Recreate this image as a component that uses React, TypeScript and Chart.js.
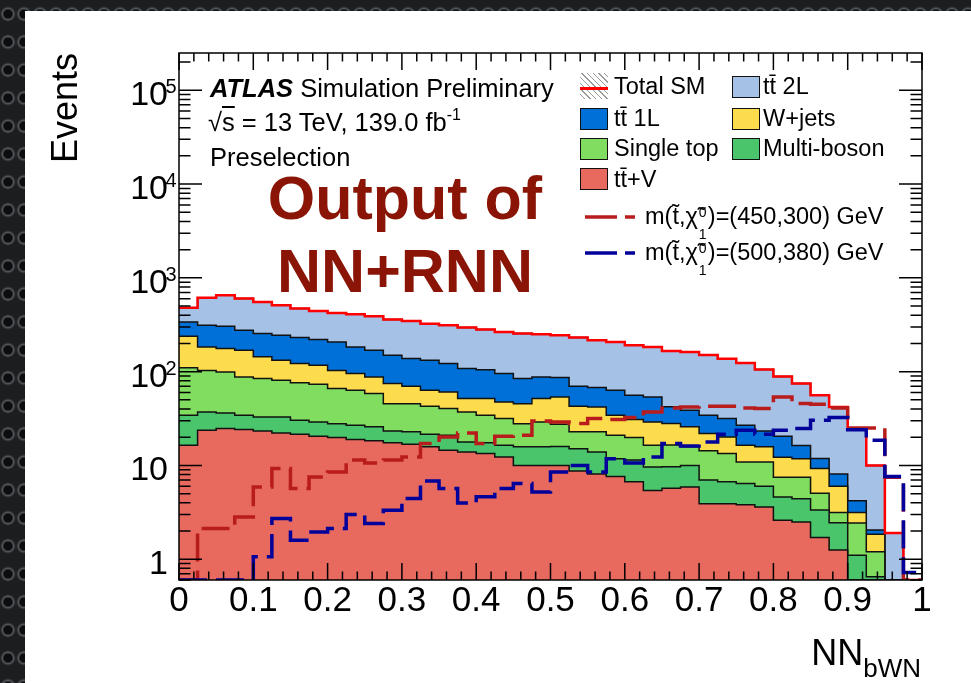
import React, { useEffect, useRef } from 'react';
import { Chart, registerables } from 'chart.js';

Chart.register(...registerables);

const FONT = '"Liberation Sans", Arial, Helvetica, sans-serif';

// ---------------- data ----------------
// lower edges of the 40 NN_bWN bins (width 0.025)
const binLowEdges = [
  0, 0.025, 0.05, 0.075, 0.1, 0.125, 0.15, 0.175, 0.2, 0.225,
  0.25, 0.275, 0.3, 0.325, 0.35, 0.375, 0.4, 0.425, 0.45, 0.475,
  0.5, 0.525, 0.55, 0.575, 0.6, 0.625, 0.65, 0.675, 0.7, 0.725,
  0.75, 0.775, 0.8, 0.825, 0.85, 0.875, 0.9, 0.925, 0.95, 0.975,
];
const xUpperEdge = 1;

const ttV = [
  16.4, 23.7, 24.7, 24.1, 23.3, 22.2, 21.5, 20.5, 19.8, 18.9,
  18.3, 17.4, 16.8, 15.8, 14.5, 13.9, 13.4, 12.3, 10.0, 10.0,
  10.0, 8.7, 8.1, 7.6, 6.7, 5.4, 5.7, 5.9, 3.9, 3.9,
  3.8, 3.6, 2.6, 2.5, 1.7, 1.25, 0, 0, 0, 0,
];
const multiBoson = [
  17.9, 13.5, 11.6, 10.2, 9.6, 10.7, 8.8, 8.6, 8.1, 7.9,
  7.5, 5.9, 6.0, 5.7, 6.5, 3.9, 4.0, 4.1, 5.8, 5.8,
  5.9, 6.4, 5.8, 4.2, 4.7, 4.2, 4.0, 4.1, 3.1, 2.8,
  2.6, 2.4, 2.0, 1.9, 1.65, 1.2, 1.1, 0.65, 0, 0,
];
const singleTop = [
  75.7, 65.8, 63.0, 53.6, 51.5, 48.1, 45.6, 44.3, 38.1, 36.5,
  32.6, 22.3, 22.8, 21.3, 19.4, 19.4, 16.9, 15.2, 12.1, 13.3,
  11.6, 7.7, 8.9, 9.2, 8.4, 6.8, 6.8, 5.8, 7.3, 6.7,
  4.5, 4.9, 2.9, 3.1, 1.7, 0.7, 1.33, 0.55, 0, 0,
];
const wJets = [
  128, 80, 76.7, 81.1, 59.6, 51, 46.1, 43.6, 37, 32.1,
  29.5, 29, 24.3, 20.5, 20.4, 14.4, 17.3, 16, 17.7, 22.5,
  26.3, 20, 19.3, 13.3, 11, 12.7, 11.5, 10, 7.6, 6.7,
  5.5, 4.9, 4.75, 4.25, 4.25, 2.85, 0.72, 0.65, 0, 0,
];
const ttbar1L = [
  101, 129, 129, 107, 111, 112, 109, 103, 104, 87.6,
  81.1, 75.4, 68.1, 68.7, 61.2, 56.4, 53.4, 47.8, 38.8, 36.3,
  32.7, 27.1, 25.5, 29, 25.2, 24.7, 14.2, 13, 12.4, 11.5,
  10.4, 7.5, 8.2, 4.6, 2.54, 2.1, 1.05, 0.2, 0, 0,
];
const ttbar2L = [
  141, 303, 347, 325, 299, 266, 239, 224, 216, 226,
  221, 209, 209, 193, 190, 187, 176, 170, 171, 162,
  158, 161, 148, 144, 135, 129, 124, 123, 116, 106,
  97, 82, 68.5, 58.6, 44.2, 33.9, 19.8, 7.95, 1.9, 0,
];
const signal450_300 = [
  0, 2.12, 2.12, 2.82, 5.9, 9.27, 5.67, 7.54, 8.53, 11.4,
  10.6, 11.4, 12.3, 17.1, 20.1, 22.2, 17.1, 20.5, 21.0, 29.8,
  29.1, 28.0, 31.6, 30.9, 32.4, 37.2, 41.0, 42.0, 42.8, 42.8,
  41.0, 40.4, 53.7, 45.7, 44.9, 41.0, 25.0, 25.0, 7.5, 0,
];
const signal500_380 = [
  0, 0, 0, 0, 1.06, 2.72, 1.59, 1.95, 2.12, 3.0,
  2.4, 3.33, 4.44, 6.84, 5.67, 3.98, 4.62, 5.67, 6.41, 5.22,
  8.52, 10.0, 8.52, 11.8, 10.6, 12.3, 17.1, 16.1, 17.8, 21.5,
  23.7, 21.5, 23.7, 24.7, 30.3, 32.4, 24.0, 18.6, 7.6, 0.72,
];

const yDecadeExponents = [0, 1, 2, 3, 4, 5];
const Y_MIN = 0.6;
const Y_MAX = 2.5e5;

// ---------------- styles ----------------
const C_TTV = '#e8695e';
const C_MB = '#4ac56b';
const C_ST = '#80dd5f';
const C_WJ = '#fcdc4c';
const C_TT1 = '#0070d9';
const C_TT2 = '#a5c1e6';
const C_TOTAL = '#ff0000';
const C_SIG1 = '#b81c1c';
const C_SIG2 = '#02029a';

function stepPoints(vals: number[]) {
  const pts = vals.map((v, i) => ({ x: binLowEdges[i], y: v > 0 ? v : Y_MIN }));
  pts.push({ x: xUpperEdge, y: pts[pts.length - 1].y });
  return pts;
}

const rootFramePlugin = {
  id: 'rootFrame',
  afterDraw(chart: any) {
    const { ctx, chartArea: a, scales } = chart;
    const xs = scales.x;
    const ys = scales.y;
    ctx.save();
    ctx.strokeStyle = '#000';
    ctx.lineWidth = 1.5;
    ctx.strokeRect(a.left, a.top, a.right - a.left, a.bottom - a.top);
    ctx.beginPath();
    for (let k = 0; k <= 50; k++) {
      const px = xs.getPixelForValue(k / 50);
      const len = k % 5 === 0 ? 17 : 8.5;
      ctx.moveTo(px, a.bottom);
      ctx.lineTo(px, a.bottom - len);
      ctx.moveTo(px, a.top);
      ctx.lineTo(px, a.top + len);
    }
    for (let e = -1; e <= 5; e++) {
      for (let m = 1; m <= 9; m++) {
        const v = m * Math.pow(10, e);
        if (v < Y_MIN || v > Y_MAX) continue;
        const py = ys.getPixelForValue(v);
        const len = m === 1 ? 23 : 11.5;
        ctx.moveTo(a.left, py);
        ctx.lineTo(a.left + len, py);
        ctx.moveTo(a.right, py);
        ctx.lineTo(a.right - len, py);
      }
    }
    ctx.stroke();
    // y tick labels (base + superscript exponent, ROOT style)
    ctx.fillStyle = '#000';
    ctx.textBaseline = 'alphabetic';
    yDecadeExponents.forEach((e) => {
      const py = ys.getPixelForValue(Math.pow(10, e));
      const base = e === 0 ? '1' : '10';
      ctx.font = `34px ${FONT}`;
      ctx.textAlign = 'right';
      ctx.fillText(base, a.left - 11, py + 15);
      if (e >= 2) {
        ctx.font = `20px ${FONT}`;
        ctx.textAlign = 'left';
        ctx.fillText(String(e), a.left - 13.5, py + 3);
      }
    });
    ctx.restore();
  },
};

function T(props: any) {
  const { x, base, size, children, style, align } = props;
  const s: any = {
    position: 'absolute',
    top: base - 0.8465 * size,
    fontSize: size,
    lineHeight: size + 'px',
    fontFamily: FONT,
    whiteSpace: 'nowrap',
    color: '#000',
  };
  if (align === 'right') {
    s.left = x - 600;
    s.width = 600;
    s.textAlign = 'right';
  } else if (align === 'center') {
    s.left = x - 300;
    s.width = 600;
    s.textAlign = 'center';
  } else {
    s.left = x;
  }
  return <div style={{ ...s, ...(style || {}) }}>{children}</div>;
}

function Box(props: any) {
  const { x, y, color } = props;
  return (
    <div
      style={{
        position: 'absolute',
        left: x,
        top: y,
        width: 28,
        height: 22,
        background: color,
        border: '1.5px solid #111',
        boxSizing: 'border-box',
      }}
    />
  );
}

function DashSample(props: any) {
  const { x, y, color } = props;
  return (
    <svg style={{ position: 'absolute', left: x, top: y - 4 }} width={52} height={8}>
      <line x1={0} y1={4} x2={50} y2={4} stroke={color} strokeWidth={3.5} strokeDasharray="32 8" />
    </svg>
  );
}

function StackedIdx() {
  return (
    <span style={{ position: 'relative', display: 'inline-block', width: 10, height: 0 }}>
      <span style={{ position: 'absolute', left: 1, top: -19, fontSize: 14, lineHeight: '14px' }}>0</span>
      <span style={{ position: 'absolute', left: 1, top: 3, fontSize: 14, lineHeight: '14px' }}>1</span>
    </span>
  );
}

export default function App() {
  const canvasRef = useRef<HTMLCanvasElement | null>(null);

  useEffect(() => {
    const canvas = canvasRef.current;
    if (!canvas) return;

    const layers = [
      { values: ttV, color: C_TTV },
      { values: multiBoson, color: C_MB },
      { values: singleTop, color: C_ST },
      { values: wJets, color: C_WJ },
      { values: ttbar1L, color: C_TT1 },
      { values: ttbar2L, color: C_TT2 },
    ];
    const running = binLowEdges.map(() => 0);
    const stackSets = layers.map((l) => {
      l.values.forEach((v, i) => {
        running[i] += v;
      });
      return {
        data: stepPoints(running.slice()),
        borderColor: '#111',
        borderWidth: 1.5,
        backgroundColor: l.color,
        fill: 'start',
        stepped: 'before',
        pointRadius: 0,
      };
    });
    const totalSM = running.slice();

    const chart = new Chart(canvas, {
      type: 'line',
      data: {
        datasets: [
          {
            data: stepPoints(signal500_380),
            borderColor: C_SIG2,
            borderWidth: 3.5,
            borderDash: [28, 9],
            fill: false,
            stepped: 'before',
            pointRadius: 0,
          },
          {
            data: stepPoints(signal450_300),
            borderColor: C_SIG1,
            borderWidth: 3.5,
            borderDash: [28, 9],
            fill: false,
            stepped: 'before',
            pointRadius: 0,
          },
          {
            data: stepPoints(totalSM),
            borderColor: C_TOTAL,
            borderWidth: 2.5,
            fill: false,
            stepped: 'before',
            pointRadius: 0,
          },
          ...stackSets,
        ] as any,
      },
      options: {
        responsive: false,
        devicePixelRatio: 1,
        animation: false,
        events: [],
        layout: { padding: { top: 53, right: 49, left: 0, bottom: 0 } },
        plugins: { legend: { display: false }, tooltip: { enabled: false } },
        scales: {
          x: {
            type: 'linear',
            min: 0,
            max: 1,
            grid: { display: false, drawTicks: false },
            border: { display: false },
            ticks: {
              stepSize: 0.1,
              autoSkip: false,
              maxRotation: 0,
              minRotation: 0,
              padding: 0,
              color: '#000',
              font: { family: FONT, size: 35 },
              callback: (v: any) => String(Math.round(Number(v) * 10) / 10),
            },
            afterFit: (s: any) => {
              s.height = 103;
            },
          },
          y: {
            type: 'logarithmic',
            min: Y_MIN,
            max: Y_MAX,
            grid: { display: false, drawTicks: false },
            border: { display: false },
            ticks: { display: false },
            afterFit: (s: any) => {
              s.width = 179;
            },
          },
        },
      } as any,
      plugins: [rootFramePlugin],
    });
    return () => chart.destroy();
  }, []);

  const bg =
    'radial-gradient(circle at 50% 50%, #0c0d0e 0px, #0c0d0e 4px, #55595d 5.5px, #2c2f32 7px, #1b1d1f 8px)';

  return (
    <div
      style={{
        position: 'fixed',
        left: 0,
        top: 0,
        width: 971,
        height: 683,
        overflow: 'hidden',
        backgroundColor: '#1d1f21',
        backgroundImage: `${bg}, ${bg}`,
        backgroundSize: '16px 28px, 16px 28px',
        backgroundPosition: '0px 0px, 8px 14px',
      }}
    >
      <div style={{ position: 'absolute', left: 25, top: 11, right: 0, bottom: 0, background: '#fff' }} />
      <canvas ref={canvasRef} width={971} height={683} style={{ position: 'absolute', left: 0, top: 0 }} />

      {/* axis titles */}
      <div
        style={{
          position: 'absolute',
          left: 46.5,
          top: 253,
          width: 200,
          textAlign: 'right',
          fontSize: 36,
          lineHeight: '36px',
          fontFamily: FONT,
          whiteSpace: 'nowrap',
          transform: 'rotate(-90deg)',
          transformOrigin: '0 0',
        }}
      >
        Events
      </div>
      <T x={921} base={665} size={36} align="right">
        NN
        <span style={{ position: 'relative', top: 12, fontSize: 26, lineHeight: 0 }}>bWN</span>
      </T>

      {/* ATLAS label */}
      <T x={210} base={98} size={25.5}>
        <span style={{ fontWeight: 'bold', fontStyle: 'italic' }}>ATLAS</span> Simulation Preliminary
      </T>
      <T x={208} base={131.7} size={25.5}>
        √<span style={{ textDecoration: 'overline' }}>s</span> = 13 TeV, 139.0 fb
        <span style={{ position: 'relative', top: -11, fontSize: 16, lineHeight: 0 }}>-1</span>
      </T>
      <T x={210} base={166.7} size={25.5}>
        Preselection
      </T>

      {/* big annotation */}
      <T x={405} base={220} size={61} align="center" style={{ fontWeight: 'bold', color: '#8a1405' }}>
        Output of
      </T>
      <T x={405} base={293} size={61} align="center" style={{ fontWeight: 'bold', color: '#8a1405' }}>
        NN+RNN
      </T>

      {/* legend */}
      <div
        style={{
          position: 'absolute',
          left: 580,
          top: 73,
          width: 28,
          height: 26,
          backgroundImage:
            'repeating-linear-gradient(45deg, transparent 0px, transparent 3px, #9a9a9a 3px, #9a9a9a 4px)',
        }}
      />
      <div style={{ position: 'absolute', left: 580, top: 86.5, width: 28, height: 3, background: C_TOTAL }} />
      <T x={614} base={95} size={23.5}>Total SM</T>
      <Box x={732} y={75.5} color={C_TT2} />
      <T x={763} base={95} size={23.5}>t{'t\u0304'} 2L</T>

      <Box x={580} y={107.5} color={C_TT1} />
      <T x={614} base={127} size={23.5}>t{'t\u0304'} 1L</T>
      <Box x={732} y={107.5} color={C_WJ} />
      <T x={763} base={127} size={23.5}>W+jets</T>

      <Box x={580} y={137.5} color={C_ST} />
      <T x={614} base={157} size={23.5}>Single top</T>
      <Box x={732} y={137.5} color={C_MB} />
      <T x={763} base={157} size={23.5}>Multi-boson</T>

      <Box x={580} y={168} color={C_TTV} />
      <T x={614} base={187.5} size={23.5}>t{'t\u0304'}+V</T>

      <DashSample x={585} y={216.5} color={C_SIG1} />
      <T x={645} base={225} size={23.5}>
        m(t{'\u0303'},χ{'\u0303'}
        <StackedIdx />
        )=(450,300) GeV
      </T>
      <DashSample x={585} y={253} color={C_SIG2} />
      <T x={645} base={261} size={23.5}>
        m(t{'\u0303'},χ{'\u0303'}
        <StackedIdx />
        )=(500,380) GeV
      </T>
    </div>
  );
}
